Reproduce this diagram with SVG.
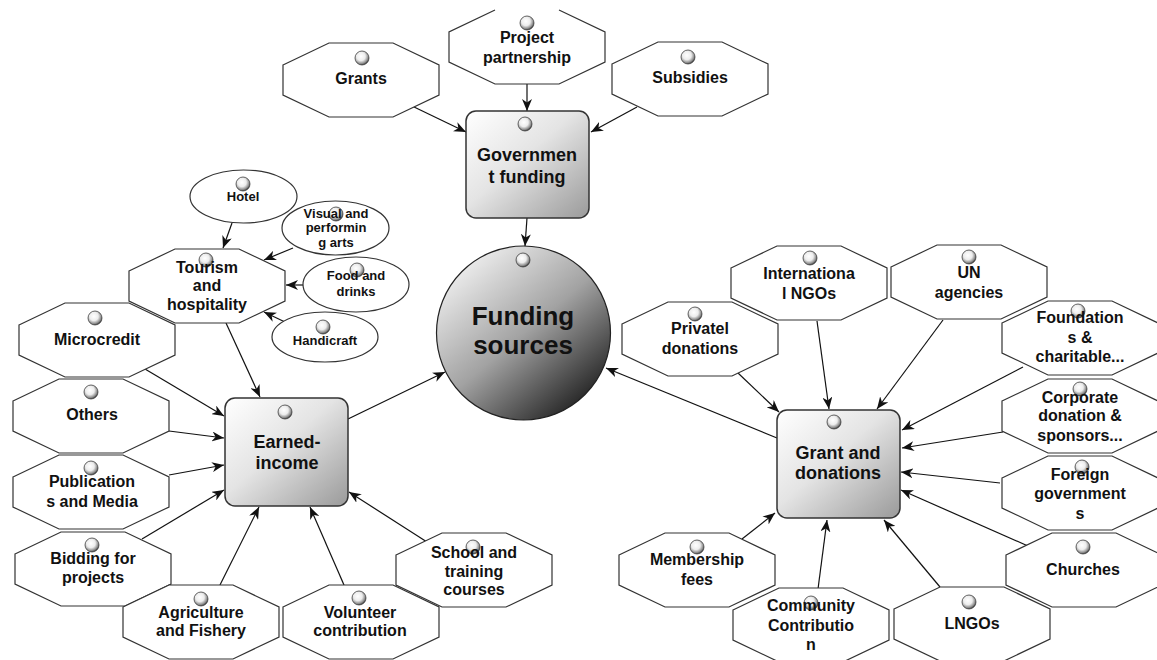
<svg xmlns="http://www.w3.org/2000/svg" xmlns:xlink="http://www.w3.org/1999/xlink" width="1157" height="660" viewBox="0 0 1157 660">
  <style>
    text { font-family: "Liberation Sans", Arial, sans-serif; font-weight: bold; fill: #111; text-anchor: middle; }
    .t13 { font-size: 13px; }
    .t16 { font-size: 16px; }
    .t18 { font-size: 18px; }
    .t26 { font-size: 26px; }
    .oct { fill: #fff; stroke: #333; stroke-width: 1.2; }
    .ell { fill: #fff; stroke: #333; stroke-width: 1.2; }
    .box { fill: url(#boxGrad); stroke: #333; stroke-width: 1.5; }
    .ball { fill: url(#ballGrad); stroke: #444; stroke-width: 0.8; }
    .edge { fill: none; stroke: #111; stroke-width: 1.2; marker-end: url(#arrow); }
  </style>
  <defs>
    <polygon id="oct" class="oct" points="0,22 46,0 110,0 156,22 156,52 110,74 46,74 0,52"/>
    <linearGradient id="boxGrad" x1="0" y1="0" x2="1" y2="1">
      <stop offset="0" stop-color="#ffffff"/>
      <stop offset="0.45" stop-color="#e4e4e4"/>
      <stop offset="1" stop-color="#9a9a9a"/>
    </linearGradient>
    <linearGradient id="sphereGrad" x1="0.12" y1="0.08" x2="0.85" y2="0.95">
      <stop offset="0" stop-color="#f2f2f2"/>
      <stop offset="0.5" stop-color="#a2a2a2"/>
      <stop offset="1" stop-color="#1c1c1c"/>
    </linearGradient>
    <radialGradient id="ballGrad" cx="0.42" cy="0.38" r="0.62">
      <stop offset="0" stop-color="#ffffff"/>
      <stop offset="0.5" stop-color="#ededed"/>
      <stop offset="0.85" stop-color="#8a8a8a"/>
      <stop offset="1" stop-color="#3a3a3a"/>
    </radialGradient>
    <marker id="arrow" viewBox="0 0 12 10" refX="12" refY="5" markerWidth="12" markerHeight="10" markerUnits="userSpaceOnUse" orient="auto">
      <path d="M0,0 L12,5 L0,10 L3.5,5 Z" fill="#111"/>
    </marker>
  </defs>

  <!-- connectors -->
  <g id="connectors">
    <line class="edge" x1="412" y1="106" x2="466" y2="132"/>
    <line class="edge" x1="527" y1="84" x2="527" y2="111"/>
    <line class="edge" x1="637" y1="107" x2="591" y2="132"/>
    <line class="edge" x1="527" y1="218" x2="525" y2="246"/>

    <line class="edge" x1="232" y1="223" x2="223" y2="248"/>
    <line class="edge" x1="293" y1="248" x2="264" y2="260"/>
    <line class="edge" x1="303" y1="285" x2="286" y2="285"/>
    <line class="edge" x1="285" y1="322" x2="264" y2="312"/>
    <line class="edge" x1="226" y1="323" x2="260" y2="397"/>

    <line class="edge" x1="145" y1="369" x2="224" y2="416"/>
    <line class="edge" x1="169" y1="431" x2="224" y2="438"/>
    <line class="edge" x1="169" y1="475" x2="224" y2="465"/>
    <line class="edge" x1="142" y1="539" x2="224" y2="490"/>
    <line class="edge" x1="220" y1="585" x2="259" y2="507"/>
    <line class="edge" x1="344" y1="585" x2="310" y2="507"/>
    <line class="edge" x1="427" y1="542" x2="349" y2="492"/>
    <line class="edge" x1="348" y1="419" x2="445" y2="372"/>

    <line class="edge" x1="738" y1="373" x2="779" y2="412"/>
    <line class="edge" x1="817" y1="321" x2="829" y2="409"/>
    <line class="edge" x1="943" y1="320" x2="877" y2="409"/>
    <line class="edge" x1="1023" y1="367" x2="902" y2="430"/>
    <line class="edge" x1="1003" y1="432" x2="902" y2="448"/>
    <line class="edge" x1="1000" y1="483" x2="901" y2="472"/>
    <line class="edge" x1="1028" y1="546" x2="901" y2="490"/>
    <line class="edge" x1="940" y1="587" x2="884" y2="520"/>
    <line class="edge" x1="818" y1="589" x2="827" y2="520"/>
    <line class="edge" x1="742" y1="539" x2="775" y2="513"/>
    <line class="edge" x1="777" y1="438" x2="606" y2="368"/>
  </g>

  <!-- government funding branch -->
  <g id="n-grants">
    <use href="#oct" x="283" y="43"/>
    <circle class="ball" cx="362" cy="58" r="7"/>
    <text class="t16" x="361" y="84">Grants</text>
  </g>
  <g id="n-project">
    <polygon points="449,32 495,10 559,10 605,32 605,62 559,84 495,84 449,62" fill="#fff"/>
    <polyline class="oct" fill="none" points="495,10 449,32 449,62 495,84 559,84 605,62 605,32 559,10"/>
    <circle class="ball" cx="527" cy="23" r="7"/>
    <text class="t16" x="527" y="43">Project</text>
    <text class="t16" x="527" y="63">partnership</text>
  </g>
  <g id="n-subsidies">
    <use href="#oct" x="612" y="42"/>
    <circle class="ball" cx="688" cy="57" r="7"/>
    <text class="t16" x="690" y="83">Subsidies</text>
  </g>
  <g id="n-government">
    <rect class="box" x="466" y="111" width="123" height="107" rx="10"/>
    <circle class="ball" cx="525" cy="124" r="7"/>
    <text class="t18" x="527" y="161">Governmen</text>
    <text class="t18" x="527" y="183">t funding</text>
  </g>

  <!-- central node -->
  <g id="n-funding">
    <circle cx="523.5" cy="333" r="87" fill="url(#sphereGrad)" stroke="#222" stroke-width="1.2"/>
    <circle class="ball" cx="523" cy="260" r="7"/>
    <text class="t26" x="523" y="325">Funding</text>
    <text class="t26" x="523" y="354">sources</text>
  </g>

  <!-- tourism and hospitality sub-branch -->
  <g id="n-hotel">
    <ellipse class="ell" cx="243.5" cy="196.5" rx="53.5" ry="26.5"/>
    <circle class="ball" cx="243" cy="184" r="7"/>
    <text class="t13" x="243" y="201">Hotel</text>
  </g>
  <g id="n-visual">
    <ellipse class="ell" cx="335.5" cy="228" rx="53.5" ry="27"/>
    <circle class="ball" cx="336" cy="214" r="7"/>
    <text class="t13" x="336" y="217.5">Visual and</text>
    <text class="t13" x="336" y="231.5">performin</text>
    <text class="t13" x="336" y="246.5">g arts</text>
  </g>
  <g id="n-food">
    <ellipse class="ell" cx="356" cy="284.5" rx="53" ry="27.5"/>
    <circle class="ball" cx="357" cy="270" r="7"/>
    <text class="t13" x="356" y="279.5">Food and</text>
    <text class="t13" x="356" y="295.5">drinks</text>
  </g>
  <g id="n-handicraft">
    <ellipse class="ell" cx="325" cy="337" rx="53" ry="25"/>
    <circle class="ball" cx="323" cy="327" r="7"/>
    <text class="t13" x="325" y="344.5">Handicraft</text>
  </g>
  <g id="n-tourism">
    <use href="#oct" x="129" y="249"/>
    <circle class="ball" cx="206" cy="260" r="7"/>
    <text class="t16" x="207" y="273">Tourism</text>
    <text class="t16" x="207" y="291">and</text>
    <text class="t16" x="207" y="310">hospitality</text>
  </g>

  <!-- earned income branch -->
  <g id="n-microcredit">
    <use href="#oct" x="19" y="303"/>
    <circle class="ball" cx="95" cy="318" r="7"/>
    <text class="t16" x="97" y="345">Microcredit</text>
  </g>
  <g id="n-others">
    <use href="#oct" x="13" y="379"/>
    <circle class="ball" cx="91" cy="392" r="7"/>
    <text class="t16" x="92" y="420">Others</text>
  </g>
  <g id="n-publications">
    <use href="#oct" x="13" y="455"/>
    <circle class="ball" cx="91" cy="468" r="7"/>
    <text class="t16" x="92" y="487">Publication</text>
    <text class="t16" x="92" y="507">s and Media</text>
  </g>
  <g id="n-bidding">
    <use href="#oct" x="15" y="532"/>
    <circle class="ball" cx="92" cy="545" r="7"/>
    <text class="t16" x="93" y="564">Bidding for</text>
    <text class="t16" x="93" y="583">projects</text>
  </g>
  <g id="n-agriculture">
    <use href="#oct" x="123" y="585"/>
    <circle class="ball" cx="201" cy="599" r="7"/>
    <text class="t16" x="201" y="618">Agriculture</text>
    <text class="t16" x="201" y="636">and Fishery</text>
  </g>
  <g id="n-volunteer">
    <use href="#oct" x="283" y="585"/>
    <circle class="ball" cx="359" cy="598" r="7"/>
    <text class="t16" x="360" y="618">Volunteer</text>
    <text class="t16" x="360" y="636">contribution</text>
  </g>
  <g id="n-school">
    <use href="#oct" x="396" y="533"/>
    <circle class="ball" cx="473" cy="547" r="7"/>
    <text class="t16" x="474" y="558">School and</text>
    <text class="t16" x="474" y="577">training</text>
    <text class="t16" x="474" y="595">courses</text>
  </g>
  <g id="n-earned">
    <rect class="box" x="225" y="398" width="123" height="108" rx="10"/>
    <circle class="ball" cx="285" cy="412" r="7"/>
    <text class="t18" x="287" y="448">Earned-</text>
    <text class="t18" x="287" y="469">income</text>
  </g>

  <!-- grants and donations branch -->
  <g id="n-private">
    <use href="#oct" x="622" y="302"/>
    <circle class="ball" cx="695" cy="314" r="7"/>
    <text class="t16" x="700" y="334">Privatel</text>
    <text class="t16" x="700" y="354">donations</text>
  </g>
  <g id="n-ingos">
    <use href="#oct" x="731" y="246"/>
    <circle class="ball" cx="810" cy="258" r="7"/>
    <text class="t16" x="809" y="279">Internationa</text>
    <text class="t16" x="809" y="299">l NGOs</text>
  </g>
  <g id="n-un">
    <use href="#oct" x="891" y="245"/>
    <circle class="ball" cx="969" cy="257" r="7"/>
    <text class="t16" x="969" y="278">UN</text>
    <text class="t16" x="969" y="298">agencies</text>
  </g>
  <g id="n-foundations">
    <use href="#oct" x="1002" y="301"/>
    <circle class="ball" cx="1078" cy="311" r="7"/>
    <text class="t16" x="1080" y="323">Foundation</text>
    <text class="t16" x="1080" y="343">s &amp;</text>
    <text class="t16" x="1080" y="362">charitable...</text>
  </g>
  <g id="n-corporate">
    <use href="#oct" x="1002" y="379"/>
    <circle class="ball" cx="1080" cy="389" r="7"/>
    <text class="t16" x="1080" y="403">Corporate</text>
    <text class="t16" x="1080" y="421">donation &amp;</text>
    <text class="t16" x="1080" y="441">sponsors...</text>
  </g>
  <g id="n-foreign">
    <use href="#oct" x="1002" y="456"/>
    <circle class="ball" cx="1082" cy="467" r="7"/>
    <text class="t16" x="1080" y="480">Foreign</text>
    <text class="t16" x="1080" y="499">government</text>
    <text class="t16" x="1080" y="519">s</text>
  </g>
  <g id="n-churches">
    <use href="#oct" x="1006" y="533"/>
    <circle class="ball" cx="1083" cy="547" r="7"/>
    <text class="t16" x="1083" y="575">Churches</text>
  </g>
  <g id="n-grantdon">
    <rect class="box" x="777" y="410" width="123" height="108" rx="10"/>
    <circle class="ball" cx="834" cy="422" r="7"/>
    <text class="t18" x="838" y="459">Grant and</text>
    <text class="t18" x="838" y="479">donations</text>
  </g>
  <g id="n-membership">
    <use href="#oct" x="619" y="533"/>
    <circle class="ball" cx="697" cy="547" r="7"/>
    <text class="t16" x="697" y="565">Membership</text>
    <text class="t16" x="697" y="585">fees</text>
  </g>
  <g id="n-community">
    <use href="#oct" x="733" y="588"/>
    <circle class="ball" cx="811" cy="603" r="7"/>
    <text class="t16" x="811" y="611">Community</text>
    <text class="t16" x="811" y="631">Contributio</text>
    <text class="t16" x="811" y="650">n</text>
  </g>
  <g id="n-lngos">
    <use href="#oct" x="894" y="587"/>
    <circle class="ball" cx="969" cy="602" r="7"/>
    <text class="t16" x="972" y="629">LNGOs</text>
  </g>
</svg>
